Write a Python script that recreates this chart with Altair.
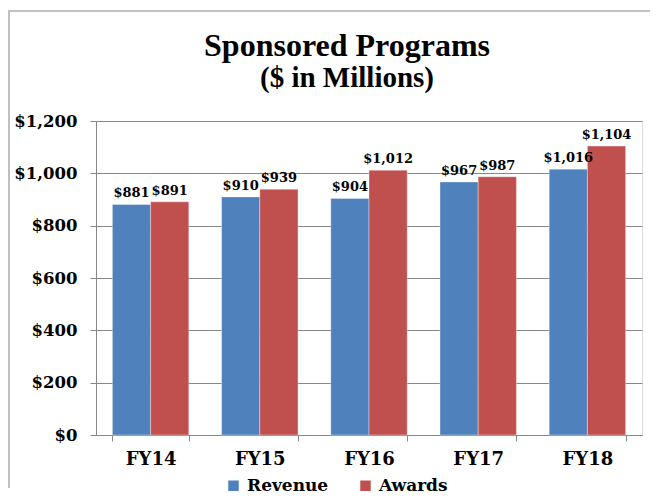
import altair as alt
import pandas as pd

years = ["FY14", "FY15", "FY16", "FY17", "FY18"]
revenue = [881, 910, 904, 967, 1016]
awards = [891, 939, 1012, 987, 1104]
series = ["Revenue", "Awards"]
colors = ["#4F81BD", "#C0504D"]

rows = []
for i, y in enumerate(years):
    rows.append({"year": y, "series": "Revenue", "value": revenue[i], "order": 0})
    rows.append({"year": y, "series": "Awards", "value": awards[i], "order": 1})
df = pd.DataFrame(rows)
df["label"] = df["value"].map(lambda v: "${:,}".format(v))

FONT = "DejaVu Serif"

x = alt.X("year:N", sort=years, title=None,
          scale=alt.Scale(paddingInner=0.3, paddingOuter=0.15),
          axis=alt.Axis(labelAngle=0, tickBand="extent", tickSize=6,
                        domainColor="#888888", tickColor="#888888",
                        labelFont=FONT, labelFontSize=18, labelFontWeight="bold",
                        labelColor="black", labelPadding=9))
xo = alt.XOffset("series:N", sort=series, scale=alt.Scale(paddingInner=0, paddingOuter=0))
y = alt.Y("value:Q", title=None,
          scale=alt.Scale(domain=[0, 1200], nice=False),
          axis=alt.Axis(values=[0, 200, 400, 600, 800, 1000, 1200],
                        labelExpr="'$' + format(datum.value, ',')",
                        grid=True, gridColor="#888888", domainColor="#888888",
                        tickColor="#888888", tickSize=6,
                        labelFont=FONT, labelFontSize=16.5, labelFontWeight="bold",
                        labelColor="black", labelPadding=13))

bars = alt.Chart(df).mark_bar(stroke="white", strokeWidth=0.6, strokeOpacity=0.6).encode(
    x=x, xOffset=xo, y=y,
    color=alt.Color("series:N", sort=series,
                    scale=alt.Scale(domain=series, range=colors),
                    legend=alt.Legend(title=None, orient="none", direction="horizontal",
                                      legendX=129, legendY=356, symbolType="square",
                                      symbolSize=110, symbolStrokeWidth=0,
                                      labelFont=FONT, labelFontSize=17,
                                      labelFontWeight="bold", labelColor="black",
                                      columnPadding=28, labelOffset=5)),
)

labels = alt.Chart(df).mark_text(baseline="bottom", dy=-4, font=FONT, fontSize=13,
                                 fontWeight="bold", color="black").encode(
    x=x, xOffset=xo, y=y, text="label:N"
)

border_top = alt.Chart(pd.DataFrame({"k": [0]})).mark_rule(color="#C0C0C0", strokeWidth=2).encode(
    x=alt.value(-88), x2=alt.value(554), y=alt.value(-110)
)
border_left = alt.Chart(pd.DataFrame({"k": [0]})).mark_rule(color="#C0C0C0", strokeWidth=2).encode(
    x=alt.value(-87), y=alt.value(-111), y2=alt.value(367)
)

chart = alt.layer(bars, labels, border_top, border_left).properties(
    width=546, height=314,
    autosize=alt.AutoSizeParams(type="none"),
    padding={"left": 88, "top": 113, "right": 8, "bottom": 60},
    title=alt.TitleParams(text="Sponsored Programs", subtitle="($ in Millions)",
                          font="Liberation Serif", fontSize=32, fontWeight="bold",
                          subtitleFont="Liberation Serif", subtitleFontSize=29,
                          subtitleFontWeight="bold", subtitleColor="black",
                          color="black", anchor="middle", offset=-85,
                          subtitlePadding=1, dx=-22),
).configure_view(stroke=None).configure(background="white")

chart.save("out.html", embed_options={"renderer": "svg", "actions": False})
